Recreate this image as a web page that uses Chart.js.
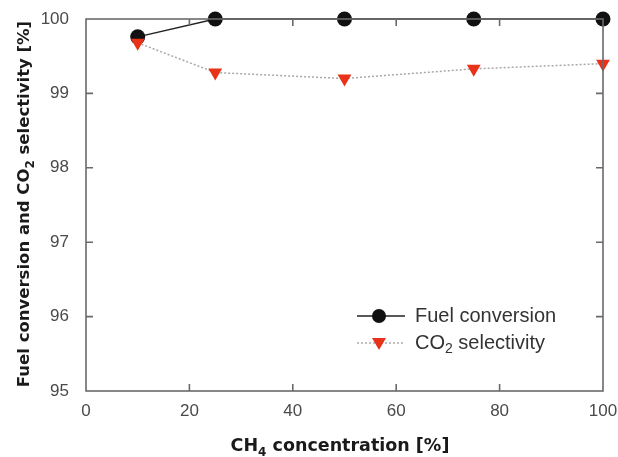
<!DOCTYPE html>
<html>
<head>
<meta charset="utf-8">
<script src="https://cdn.jsdelivr.net/npm/chart.js@4.4.1/dist/chart.umd.min.js"></script>
<style>
html, body { margin: 0; padding: 0; background: #fff; }
</style>
</head>
<body>
<canvas id="conversion_chart" width="618" height="457"></canvas>
<script>
const ch4_concentration = [10, 25, 50, 75, 100];
const fuel_conversion = [99.76, 100, 100, 100, 100];
const co2_selectivity = [99.68, 99.28, 99.2, 99.33, 99.4];
const x_ticks = [20, 40, 60, 80];
const y_ticks = [96, 97, 98, 99];

const AXIS_COLOR = '#6a6a6a';
const TEXT_COLOR = '#4a4a4a';
const RED = '#e8321a';

function toPoints(xs, ys){
    return xs.map((x, i) => ({x: x, y: ys[i]}));
}

// draws text made of parts, some of them subscript
function drawRich(ctx, parts, x, y, size, weight, align){
    const sub = Math.round(size * 0.7);
    let total = 0;
    parts.forEach(p => {
        ctx.font = weight + ' ' + (p.sub ? sub : size) + 'px ' + p.family;
        total += ctx.measureText(p.text).width;
    });
    let cx = align === 'center' ? x - total / 2 : x;
    parts.forEach(p => {
        ctx.font = weight + ' ' + (p.sub ? sub : size) + 'px ' + p.family;
        ctx.fillText(p.text, cx, p.sub ? y + size * 0.3 : y);
        cx += ctx.measureText(p.text).width;
    });
}

const framePlugin = {
    id: 'frame',
    afterDatasetsDraw(chart){
        const ctx = chart.ctx;
        const a = chart.chartArea;
        const xs = chart.scales.x;
        const ys = chart.scales.y;
        ctx.save();
        ctx.strokeStyle = AXIS_COLOR;
        ctx.lineWidth = 1.6;
        ctx.strokeRect(a.left, a.top, a.right - a.left, a.bottom - a.top);
        const tl = 7;
        ctx.beginPath();
        x_ticks.forEach(v => {
            const px = xs.getPixelForValue(v);
            ctx.moveTo(px, a.bottom); ctx.lineTo(px, a.bottom - tl);
            ctx.moveTo(px, a.top); ctx.lineTo(px, a.top + tl);
        });
        y_ticks.forEach(v => {
            const py = ys.getPixelForValue(v);
            ctx.moveTo(a.left, py); ctx.lineTo(a.left + tl, py);
            ctx.moveTo(a.right, py); ctx.lineTo(a.right - tl, py);
        });
        ctx.stroke();
        ctx.restore();
    },
    afterDraw(chart){
        const ctx = chart.ctx;
        const a = chart.chartArea;
        ctx.save();
        ctx.fillStyle = '#1a1a1a';
        ctx.textBaseline = 'alphabetic';
        // x title
        drawRich(ctx, [
            {text: 'CH', family: '"DejaVu Sans"'},
            {text: '4', sub: true, family: '"DejaVu Sans"'},
            {text: ' concentration [%]', family: '"DejaVu Sans"'}
        ], 340, 451, 17.5, 'bold', 'center');
        // y title
        ctx.translate(29, 204);
        ctx.rotate(-Math.PI / 2);
        drawRich(ctx, [
            {text: 'Fuel conversion and CO', family: '"DejaVu Sans"'},
            {text: '2', sub: true, family: '"DejaVu Sans"'},
            {text: ' selectivity [%]', family: '"DejaVu Sans"'}
        ], 0, 0, 16.5, 'bold', 'center');
        ctx.restore();

        // legend
        ctx.save();
        const lx0 = 357, lx1 = 405, mx = 379, tx = 415;
        const r1 = 316, r2 = 343;
        ctx.strokeStyle = '#222';
        ctx.lineWidth = 1.5;
        ctx.beginPath(); ctx.moveTo(lx0, r1); ctx.lineTo(lx1, r1); ctx.stroke();
        ctx.fillStyle = '#111';
        ctx.beginPath(); ctx.arc(mx, r1, 7, 0, Math.PI * 2); ctx.fill();
        ctx.strokeStyle = '#aaa';
        ctx.setLineDash([2, 2]);
        ctx.beginPath(); ctx.moveTo(lx0, r2); ctx.lineTo(lx1, r2); ctx.stroke();
        ctx.setLineDash([]);
        ctx.fillStyle = RED;
        ctx.beginPath();
        ctx.moveTo(mx - 7, r2 - 5); ctx.lineTo(mx + 7, r2 - 5); ctx.lineTo(mx, r2 + 7);
        ctx.closePath(); ctx.fill();
        ctx.fillStyle = '#333';
        ctx.textBaseline = 'middle';
        drawRich(ctx, [{text: 'Fuel conversion', family: '"Liberation Sans"'}], tx, r1, 20, 'normal', 'left');
        drawRich(ctx, [
            {text: 'CO', family: '"Liberation Sans"'},
            {text: '2', sub: true, family: '"Liberation Sans"'},
            {text: ' selectivity', family: '"Liberation Sans"'}
        ], tx, r2, 20, 'normal', 'left');
        ctx.restore();
    }
};

const ctx = document.getElementById('conversion_chart').getContext('2d');
const conversion_chart = new Chart(ctx, {
    type: 'line',
    data: {
        datasets: [{
            label: 'Fuel conversion',
            data: toPoints(ch4_concentration, fuel_conversion),
            borderColor: '#222',
            borderWidth: 1.5,
            pointStyle: 'circle',
            pointRadius: 7.5,
            pointBackgroundColor: '#111',
            pointBorderColor: '#111',
            pointBorderWidth: 0,
            clip: false,
            order: 1
        }, {
            label: 'CO2 selectivity',
            data: toPoints(ch4_concentration, co2_selectivity),
            borderColor: '#a8a8a8',
            borderWidth: 1.5,
            borderDash: [2, 2],
            pointStyle: 'triangle',
            rotation: 180,
            pointRadius: 8,
            pointBackgroundColor: RED,
            pointBorderColor: RED,
            pointBorderWidth: 0,
            clip: false,
            order: 0
        }]
    },
    options: {
        responsive: false,
        animation: false,
        layout: {padding: {top: 19, right: 15, left: 0, bottom: 0}},
        plugins: {legend: {display: false}, tooltip: {enabled: false}},
        scales: {
            x: {
                type: 'linear', min: 0, max: 100,
                grid: {display: false}, border: {display: false},
                ticks: {stepSize: 20, color: TEXT_COLOR, padding: 2,
                    font: {family: '"Liberation Sans"', size: 17}},
                afterFit(scale){ scale.height = 66; scale.paddingRight = 0; scale.paddingLeft = 0; }
            },
            y: {
                min: 95, max: 100,
                grid: {display: false}, border: {display: false},
                ticks: {stepSize: 1, color: TEXT_COLOR, padding: 9,
                    font: {family: '"Liberation Sans"', size: 17}},
                afterFit(scale){ scale.width = 86; scale.paddingTop = 0; scale.paddingBottom = 0; }
            }
        }
    },
    plugins: [framePlugin]
});
</script>
</body>
</html>
